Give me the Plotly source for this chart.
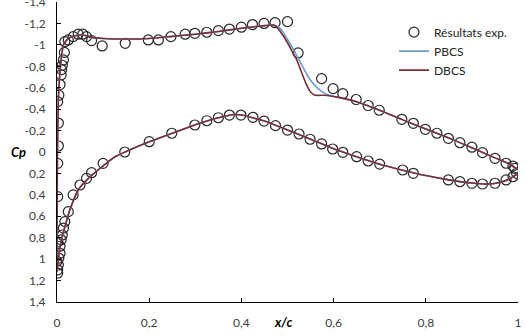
import plotly.graph_objects as go

# ---------------- data ----------------
# Experimental results (x/c, Cp) - upper surface
exp_x_upper = [0.003, 0.003, 0.0015, 0.004, 0.0065, 0.009, 0.010, 0.0115, 0.014, 0.016, 0.017,
               0.0245, 0.035, 0.046, 0.056, 0.064, 0.075, 0.098, 0.148, 0.198, 0.220, 0.247,
               0.278, 0.299, 0.325, 0.350, 0.374, 0.400, 0.424, 0.449, 0.473, 0.500, 0.523,
               0.574, 0.599, 0.620, 0.649, 0.675, 0.699, 0.748, 0.773, 0.799, 0.824, 0.849,
               0.874, 0.900, 0.923, 0.950, 0.974, 0.989, 0.993]
exp_cp_upper = [-0.056, -0.27, -0.47, -0.53, -0.63, -0.72, -0.77, -0.81, -0.86, -0.93, -1.03,
                -1.046, -1.077, -1.10, -1.10, -1.077, -1.04, -0.99, -1.015, -1.046, -1.046, -1.077,
                -1.10, -1.108, -1.118, -1.133, -1.148, -1.165, -1.19, -1.20, -1.207, -1.217, -0.925,
                -0.685, -0.592, -0.545, -0.49, -0.434, -0.39, -0.305, -0.268, -0.212, -0.175, -0.128,
                -0.087, -0.045, 0.006, 0.059, 0.105, 0.131, 0.152]
# Experimental results - lower surface
exp_x_lower = [0.0015, 0.0015, 0.0015, 0.000, 0.003, 0.0015, 0.0015, 0.004, 0.0065, 0.0065,
               0.009, 0.0115, 0.014, 0.017, 0.0245, 0.035, 0.050, 0.064, 0.075, 0.100, 0.147,
               0.200, 0.249, 0.299, 0.325, 0.350, 0.374, 0.399, 0.425, 0.449, 0.474, 0.500,
               0.525, 0.549, 0.574, 0.598, 0.620, 0.650, 0.675, 0.700, 0.750, 0.773, 0.849,
               0.874, 0.900, 0.923, 0.950, 0.974, 0.989, 0.997]
exp_cp_lower = [0.106, 0.417, 0.84, 1.02, 1.055, 1.10, 1.13, 0.99, 0.946, 0.88,
                0.82, 0.775, 0.71, 0.65, 0.557, 0.40, 0.308, 0.246, 0.193, 0.106, 0.0,
                -0.096, -0.175, -0.252, -0.292, -0.32, -0.345, -0.345, -0.324, -0.289, -0.246, -0.205,
                -0.168, -0.119, -0.075, -0.028, 0.003, 0.044, 0.084, 0.113, 0.168, 0.199, 0.261,
                0.277, 0.292, 0.299, 0.292, 0.261, 0.231, 0.199]

# Computed distributions - upper surface (common part + shock region per model)
cfd_x_upper_le = [0.0, 0.0003, 0.001, 0.003, 0.0065, 0.01, 0.014, 0.02, 0.025, 0.035, 0.046,
                  0.055, 0.075, 0.10, 0.15, 0.20, 0.25, 0.30, 0.35, 0.40, 0.45, 0.465]
cfd_cp_upper_le = [1.12, 0.5, 0.0, -0.5, -0.75, -0.9, -1.0, -1.04, -1.06, -1.08, -1.09,
                   -1.095, -1.07, -1.06, -1.055, -1.06, -1.08, -1.10, -1.125, -1.155, -1.18, -1.186]
pbcs_x_shock = [0.475, 0.485, 0.49, 0.50, 0.51, 0.52, 0.53, 0.54, 0.55, 0.56, 0.57, 0.58, 0.60, 0.62]
pbcs_cp_shock = [-1.18, -1.15, -1.12, -1.05, -0.98, -0.90, -0.82, -0.74, -0.67, -0.62, -0.58, -0.55, -0.52, -0.50]
dbcs_x_shock = [0.47, 0.48, 0.49, 0.50, 0.51, 0.52, 0.53, 0.54, 0.55, 0.56, 0.58, 0.61]
dbcs_cp_shock = [-1.185, -1.15, -1.09, -1.02, -0.94, -0.86, -0.75, -0.64, -0.56, -0.53, -0.53, -0.51]
cfd_x_upper_te = [0.65, 0.70, 0.75, 0.80, 0.85, 0.90, 0.95, 0.98, 1.0]
cfd_cp_upper_te = [-0.47, -0.39, -0.30, -0.215, -0.13, -0.04, 0.055, 0.11, 0.165]
# Computed distributions - lower surface (both models coincide)
cfd_x_lower = [0.0, 0.003, 0.007, 0.012, 0.017, 0.028, 0.046, 0.068, 0.10, 0.126, 0.15, 0.20,
               0.25, 0.30, 0.35, 0.385, 0.40, 0.45, 0.50, 0.55, 0.60, 0.65, 0.70, 0.75, 0.80,
               0.85, 0.90, 0.93, 0.96, 0.98, 1.0]
cfd_cp_lower = [1.12, 1.0, 0.88, 0.78, 0.70, 0.54, 0.355, 0.246, 0.13, 0.044, -0.005, -0.095,
                -0.175, -0.255, -0.32, -0.35, -0.345, -0.29, -0.205, -0.12, -0.03, 0.045, 0.115, 0.17, 0.22,
                0.26, 0.29, 0.30, 0.285, 0.255, 0.20]

y_tick_vals = [-1.4, -1.2, -1.0, -0.8, -0.6, -0.4, -0.2, 0, 0.2, 0.4, 0.6, 0.8, 1.0, 1.2, 1.4]
y_tick_text = ["-1,4", "-1,2", "-1", "-0,8", "-0,6", "-0,4", "-0,2", "0", "0,2", "0,4", "0,6",
               "0,8", "1", "1,2", "1,4"]
x_tick_vals = [0, 0.2, 0.4, 0.6, 0.8, 1.0]
x_tick_text = ["0", "0,2", "0,4", "0,6", "0,8", "1"]

# ---------------- build ----------------
def model_curve(xs, cps):
    ux = cfd_x_upper_le + xs + cfd_x_upper_te
    uc = cfd_cp_upper_le + cps + cfd_cp_upper_te
    # go from upper trailing edge round the leading edge to lower trailing edge
    return ux[::-1] + cfd_x_lower[1:], uc[::-1] + cfd_cp_lower[1:]

FONT = "Lato"
fig = go.Figure()

fig.add_trace(go.Scatter(
    x=exp_x_upper + exp_x_lower, y=exp_cp_upper + exp_cp_lower,
    mode="markers", name="Résultats exp.",
    marker=dict(symbol="circle-open", size=10, color="#262626", line=dict(width=1.2, color="#262626")),
))
px_, pc_ = model_curve(pbcs_x_shock, pbcs_cp_shock)
fig.add_trace(go.Scatter(x=px_, y=pc_, mode="lines", name="PBCS",
                         line=dict(color="#6A9FD4", width=1.6, shape="spline", smoothing=0.5)))
dx_, dc_ = model_curve(dbcs_x_shock, dbcs_cp_shock)
fig.add_trace(go.Scatter(x=dx_, y=dc_, mode="lines", name="DBCS",
                         line=dict(color="#7A2E36", width=1.6, shape="spline", smoothing=0.5)))

fig.update_layout(
    width=527, height=336,
    margin=dict(l=57, r=9, t=2, b=34, autoexpand=False),
    paper_bgcolor="white", plot_bgcolor="white",
    font=dict(family=FONT, size=12, color="#404040"),
    showlegend=True,
    legend=dict(x=0.731, y=0.948, xanchor="left", yanchor="top",
                bgcolor="rgba(0,0,0,0)", font=dict(family=FONT, size=12, color="#262626"),
                tracegroupgap=0, itemwidth=30),
    xaxis=dict(range=[0, 1], showgrid=False, zeroline=False, showline=True,
               linecolor="#000000", linewidth=1, ticks="inside", ticklen=4, tickcolor="#000000",
               tickvals=x_tick_vals, ticktext=x_tick_text, ticklabelstandoff=10,
               ticklabeloverflow="allow", automargin=False),
    yaxis=dict(range=[1.4005, -1.4005], showgrid=False, zeroline=False, showline=True,
               linecolor="#000000", linewidth=1, ticks="inside", ticklen=4, tickcolor="#000000",
               tickvals=y_tick_vals, ticktext=y_tick_text, ticklabelstandoff=8,
               ticklabeloverflow="allow", automargin=False),
    annotations=[
        dict(text="<b><i>Cp</i></b>", xref="paper", yref="y", x=-0.105, y=0,
             showarrow=False, font=dict(family=FONT, size=13, color="#000000")),
        dict(text="<b><i>x/c</i></b>", xref="x", yref="paper", x=0.49, y=-0.1,
             showarrow=False, font=dict(family=FONT, size=13, color="#000000")),
    ],
)

fig.write_html("out.html")
